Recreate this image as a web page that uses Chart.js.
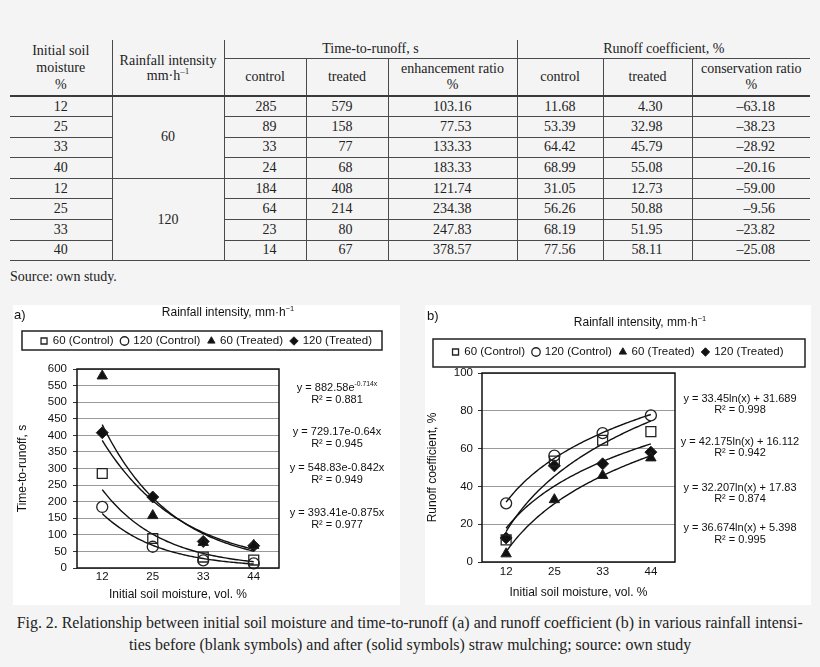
<!DOCTYPE html>
<html><head><meta charset="utf-8">
<script src="https://cdn.jsdelivr.net/npm/chart.js@4.4.1/dist/chart.umd.min.js"></script>
<style>
html,body{margin:0;padding:0;background:#f4f4f4;}
body{width:820px;height:667px;position:relative;overflow:hidden;font-family:"Liberation Serif","Times New Roman",serif;color:#222;}
#tbl{position:absolute;left:10px;top:40px;width:800px;border-collapse:collapse;table-layout:fixed;font-size:14px;}
#tbl th,#tbl td{font-weight:normal;padding:0;text-align:center;white-space:nowrap;}
#tbl .vl{border-left:1.5px solid #4a4a4a;}
#tbl tr.h1{height:18px;}
#tbl tr.h2{height:38px;}
#tbl .ub{border-bottom:1.5px solid #4a4a4a;line-height:16px;}
#tbl .hb{border-bottom:2.5px solid #3a3a3a;}
#tbl th.c1{line-height:17px;}
#tbl th.c2{line-height:15px;}
#tbl tr.h2 th{line-height:16px;}
#tbl tbody tr{height:20.6px;}
#tbl tbody td{border-bottom:1.5px solid #4a4a4a;line-height:16px;}
#tbl sup{font-size:9px;vertical-align:6px;line-height:0;}
#src{position:absolute;left:10px;top:268px;font-size:14px;line-height:18px;}
.panel{position:absolute;top:305px;height:300px;background:#fff;}
.panel canvas{display:block;}
.cl{position:absolute;left:0;width:820px;text-align:center;font-size:16px;line-height:22px;white-space:nowrap;}
.cl span{display:inline-block;transform-origin:50% 50%;}
</style></head>
<body>
<table id="tbl">
<colgroup><col style="width:102px"><col style="width:112px"><col style="width:82px"><col style="width:82px"><col style="width:129px"><col style="width:86px"><col style="width:89px"><col style="width:118px"></colgroup>
<thead>
<tr class="h1"><th rowspan="2" class="c1 hb">Initial soil<br>moisture<br>%</th><th rowspan="2" class="c2 vl hb">Rainfall intensity<br>mm·h<sup>–1</sup></th><th colspan="3" class="vl ub">Time-to-runoff, s</th><th colspan="3" class="vl ub">Runoff coefficient, %</th></tr>
<tr class="h2"><th class="vl hb">control</th><th class="vl hb">treated</th><th class="vl hb">enhancement ratio<br>%</th><th class="vl hb">control</th><th class="vl hb">treated</th><th class="vl hb">conservation ratio<br>%</th></tr>
</thead>
<tbody id="tb"></tbody>
</table>
<div id="src">Source: own study.</div>

<div class="panel" id="pA" style="left:13px;width:387px;"><canvas id="cA" width="387" height="300"></canvas></div>
<div class="panel" id="pB" style="left:425px;width:386px;"><canvas id="cB" width="386" height="300"></canvas></div>

<div class="cl" style="top:612px;"><span id="cap1">Fig. 2. Relationship between initial soil moisture and time-to-runoff (a) and runoff coefficient (b) in various rainfall intensi-</span></div>
<div class="cl" style="top:634px;"><span id="cap2">ties before (blank symbols) and after (solid symbols) straw mulching; source: own study</span></div>

<script>
// ---------- Table data ----------
const tableMoisture = [12, 25, 33, 40, 12, 25, 33, 40];
const tableIntensity = [60, 120];
const ttrControl = [285, 89, 33, 24, 184, 64, 23, 14];
const ttrTreated = [579, 158, 77, 68, 408, 214, 80, 67];
const ttrEnhancement = ['103.16', '77.53', '133.33', '183.33', '121.74', '234.38', '247.83', '378.57'];
const rcControl = ['11.68', '53.39', '64.42', '68.99', '31.05', '56.26', '68.19', '77.56'];
const rcTreated = ['4.30', '32.98', '45.79', '55.08', '12.73', '50.88', '51.95', '58.11'];
const rcConservation = ['–63.18', '–38.23', '–28.92', '–20.16', '–59.00', '–9.56', '–23.82', '–25.08'];

// ---------- Chart data ----------
const moistureTicks = ['12', '25', '33', '44'];
const seriesNames = ['60 (Control)', '120 (Control)', '60 (Treated)', '120 (Treated)'];
// (a) time-to-runoff, s
const ttr60Control = [285, 89, 33, 24];
const ttr120Control = [184, 64, 23, 14];
const ttr60Treated = [579, 158, 77, 68];
const ttr120Treated = [408, 214, 80, 67];
// (b) runoff coefficient, %
const rc60Control = [11.68, 53.39, 64.42, 68.99];
const rc120Control = [31.05, 56.26, 68.19, 77.56];
const rc60Treated = [4.30, 32.98, 45.79, 55.08];
const rc120Treated = [12.73, 50.88, 51.95, 58.11];
// trendline coefficients as printed on the chart
const expTrendA = [882.58, 729.17, 548.83, 393.41];
const expTrendB = [-0.714, -0.64, -0.842, -0.875];
const logTrendSlope = [33.45, 42.175, 32.207, 36.674];
const logTrendIntercept = [31.689, 16.112, 17.83, 5.398];
// equation labels
const eqLabelsA = ['y = 882.58e^{-0.714x}', 'R² = 0.881', 'y = 729.17e-0.64x', 'R² = 0.945', 'y = 548.83e-0.842x', 'R² = 0.949', 'y = 393.41e-0.875x', 'R² = 0.977'];
const eqLabelsB = ['y = 33.45ln(x) + 31.689', 'R² = 0.998', 'y = 42.175ln(x) + 16.112', 'R² = 0.942', 'y = 32.207ln(x) + 17.83', 'R² = 0.874', 'y = 36.674ln(x) + 5.398', 'R² = 0.995'];
const chartTitle = 'Rainfall intensity, mm·h^{−1}';
const xTitle = 'Initial soil moisture, vol. %';

// ---------- build table ----------
const tb = document.getElementById('tb');
const padR = [29, 35, 45, 27, 29, 35];
for (let i = 0; i < 8; i++) {
  const tr = document.createElement('tr');
  let h = '<td>' + tableMoisture[i] + '</td>';
  if (i % 4 === 0) h += '<td rowspan="4" class="vl">' + tableIntensity[i / 4] + '</td>';
  const vals = [ttrControl[i], ttrTreated[i], ttrEnhancement[i], rcControl[i], rcTreated[i], rcConservation[i]];
  vals.forEach((v, k) => { h += '<td class="vl" style="text-align:right;padding-right:' + padR[k] + 'px">' + v + '</td>'; });
  tr.innerHTML = h;
  tb.appendChild(tr);
}

// ---------- caption fit ----------
(function () {
  const c1 = document.getElementById('cap1'), c2 = document.getElementById('cap2');
  const s = 786 / c1.getBoundingClientRect().width;
  c1.style.transform = 'scaleX(' + s + ')';
  c2.style.transform = 'scaleX(' + s + ')';
})();

// ---------- charts ----------
const SANS = "'Liberation Sans', Arial, sans-serif";
Chart.defaults.font.family = SANS;
Chart.defaults.color = '#111';

function drawRich(ctx, str, cx, cy, size, color) {
  const parts = []; const re = /\^\{([^}]*)\}/g; let last = 0, m;
  while ((m = re.exec(str))) {
    if (m.index > last) parts.push({ t: str.slice(last, m.index), s: false });
    parts.push({ t: m[1], s: true }); last = re.lastIndex;
  }
  if (last < str.length) parts.push({ t: str.slice(last), s: false });
  const fN = size + 'px ' + SANS, fS = (size * 0.62) + 'px ' + SANS;
  let w = 0;
  parts.forEach(p => { ctx.font = p.s ? fS : fN; p.w = ctx.measureText(p.t).width; w += p.w; });
  let x = cx - w / 2;
  ctx.textBaseline = 'middle'; ctx.textAlign = 'left'; ctx.fillStyle = color;
  parts.forEach(p => { ctx.font = p.s ? fS : fN; ctx.fillText(p.t, x, p.s ? cy - size * 0.33 : cy); x += p.w; });
}

const trendPlugin = {
  id: 'trend',
  beforeDatasetsDraw(chart, args, o) {
    const { ctx, chartArea: ca, scales: { x, y } } = chart;
    ctx.save();
    ctx.beginPath(); ctx.rect(ca.left, ca.top, ca.width, ca.height); ctx.clip();
    ctx.strokeStyle = '#111'; ctx.lineWidth = 1.4;
    o.p.forEach((p, i) => {
      const q = o.q[i];
      ctx.beginPath();
      for (let k = 0; k <= 90; k++) {
        const xi = 1 + 3 * k / 90;
        const v = o.kind === 'exp' ? p * Math.exp(q * xi) : p * Math.log(xi) + q;
        const px = x.getPixelForValue(xi - 1), py = y.getPixelForValue(v);
        if (k) ctx.lineTo(px, py); else ctx.moveTo(px, py);
      }
      ctx.stroke();
    });
    ctx.restore();
  }
};

const decorPlugin = {
  id: 'decor',
  afterDraw(chart, args, o) {
    const { ctx, chartArea: ca } = chart;
    ctx.save();
    ctx.strokeStyle = '#111'; ctx.lineWidth = 1.5;
    ctx.strokeRect(ca.left, ca.top, ca.width, ca.height);
    const lb = o.legendBox;
    ctx.lineWidth = 1.5; ctx.strokeStyle = '#222';
    ctx.strokeRect(lb[0], lb[1], lb[2] - lb[0], lb[3] - lb[1]);
    ctx.font = '13px ' + SANS; ctx.fillStyle = '#111'; ctx.textBaseline = 'middle'; ctx.textAlign = 'left';
    ctx.fillText(o.tag, o.tagPos[0], o.tagPos[1]);
    drawRich(ctx, chartTitle, o.titlePos[0], o.titlePos[1], 12, '#111');
    o.eq.forEach((t, i) => drawRich(ctx, t, o.eqX, o.eqY[i], 11, '#111'));
    ctx.restore();
  }
};

function ds(label, data, style, radius, filled) {
  return {
    label, data, showLine: false, clip: false,
    pointStyle: style, pointRadius: radius, pointHoverRadius: radius,
    pointBorderColor: '#222', pointBorderWidth: filled ? 1 : 1.3,
    pointBackgroundColor: filled ? '#111' : 'rgba(0,0,0,0)',
    borderColor: '#222', backgroundColor: filled ? '#111' : 'rgba(0,0,0,0)'
  };
}

function makeOptions(cfg) {
  return {
    responsive: false, animation: false,
    layout: { padding: { top: cfg.padTop, left: 0, right: 0, bottom: 0 } },
    plugins: {
      legend: {
        position: 'top',
        labels: { usePointStyle: true, boxWidth: 6, boxHeight: 6, padding: 8, font: { size: 11.5 }, color: '#111' }
      },
      subtitle: { display: true, text: ' ', position: 'top', weight: 500, font: { size: 1, lineHeight: 1 }, padding: { top: cfg.spacer, bottom: 0 } },
      tooltip: { enabled: false },
      trend: cfg.trend,
      decor: cfg.decor
    },
    scales: {
      x: {
        type: 'category', offset: true,
        grid: { display: false, drawTicks: false }, border: { display: false },
        ticks: { font: { size: 11.5 }, color: '#111', padding: cfg.xTickPad },
        title: { display: true, text: xTitle, font: { size: 12 }, color: '#111', padding: { top: 0, bottom: cfg.xTitlePad } },
        afterFit(s) { s.height = cfg.xH; }
      },
      y: {
        min: cfg.yMin, max: cfg.yMax,
        ticks: { stepSize: cfg.yStep, autoSkip: false, font: { size: 11.5 }, color: '#111', padding: cfg.yTickPad },
        grid: { color: '#9a9a9a', lineWidth: 1, tickLength: 4, tickColor: '#333' },
        border: { display: false },
        title: { display: true, text: cfg.yTitle, font: { size: 12 }, color: '#111', padding: { top: cfg.yTitlePad, bottom: 0 } },
        afterFit(s) { s.width = cfg.yW; }
      },
      y2: {
        type: 'linear', position: 'right', display: true,
        grid: { display: false, drawTicks: false }, border: { display: false }, ticks: { display: false },
        afterFit(s) { s.width = cfg.rightW; }
      }
    }
  };
}

new Chart(document.getElementById('cA'), {
  type: 'line',
  data: {
    labels: moistureTicks,
    datasets: [
      ds(seriesNames[0], ttr60Control, 'rect', 7, false),
      ds(seriesNames[1], ttr120Control, 'circle', 5.5, false),
      ds(seriesNames[2], ttr60Treated, 'triangle', 6, true),
      ds(seriesNames[3], ttr120Treated, 'rectRot', 6, true)
    ]
  },
  options: makeOptions({
    padTop: 22.25, spacer: 11.25, xTickPad: 2, xTitlePad: 2.8, xH: 37,
    yMin: 0, yMax: 600, yStep: 50, yTickPad: 6, yTitle: 'Time-to-runoff, s', yTitlePad: 2, yW: 64, rightW: 121,
    trend: { kind: 'exp', p: expTrendA, q: expTrendB },
    decor: { legendBox: [9, 26, 369, 45], tag: 'a)', tagPos: [1, 10], titlePos: [215, 8], eq: eqLabelsA, eqX: 324, eqY: [83, 95, 127, 139, 163, 175, 208, 220] }
  }),
  plugins: [trendPlugin, decorPlugin]
});

new Chart(document.getElementById('cB'), {
  type: 'line',
  data: {
    labels: moistureTicks,
    datasets: [
      ds(seriesNames[0], rc60Control, 'rect', 7, false),
      ds(seriesNames[1], rc120Control, 'circle', 5.5, false),
      ds(seriesNames[2], rc60Treated, 'triangle', 6, true),
      ds(seriesNames[3], rc120Treated, 'rectRot', 6, true)
    ]
  },
  options: makeOptions({
    padTop: 33.25, spacer: 4.25, xTickPad: 3, xTitlePad: 4.8, xH: 43,
    yMin: 0, yMax: 100, yStep: 20, yTickPad: 5, yTitle: 'Runoff coefficient, %', yTitlePad: 0, yW: 57, rightW: 136,
    trend: { kind: 'log', p: logTrendSlope, q: logTrendIntercept },
    decor: { legendBox: [8, 34, 380, 62], tag: 'b)', tagPos: [2, 11], titlePos: [215, 18], eq: eqLabelsB, eqX: 315, eqY: [94, 105, 137, 148, 183, 194, 223, 235] }
  }),
  plugins: [trendPlugin, decorPlugin]
});
</script>
</body></html>
